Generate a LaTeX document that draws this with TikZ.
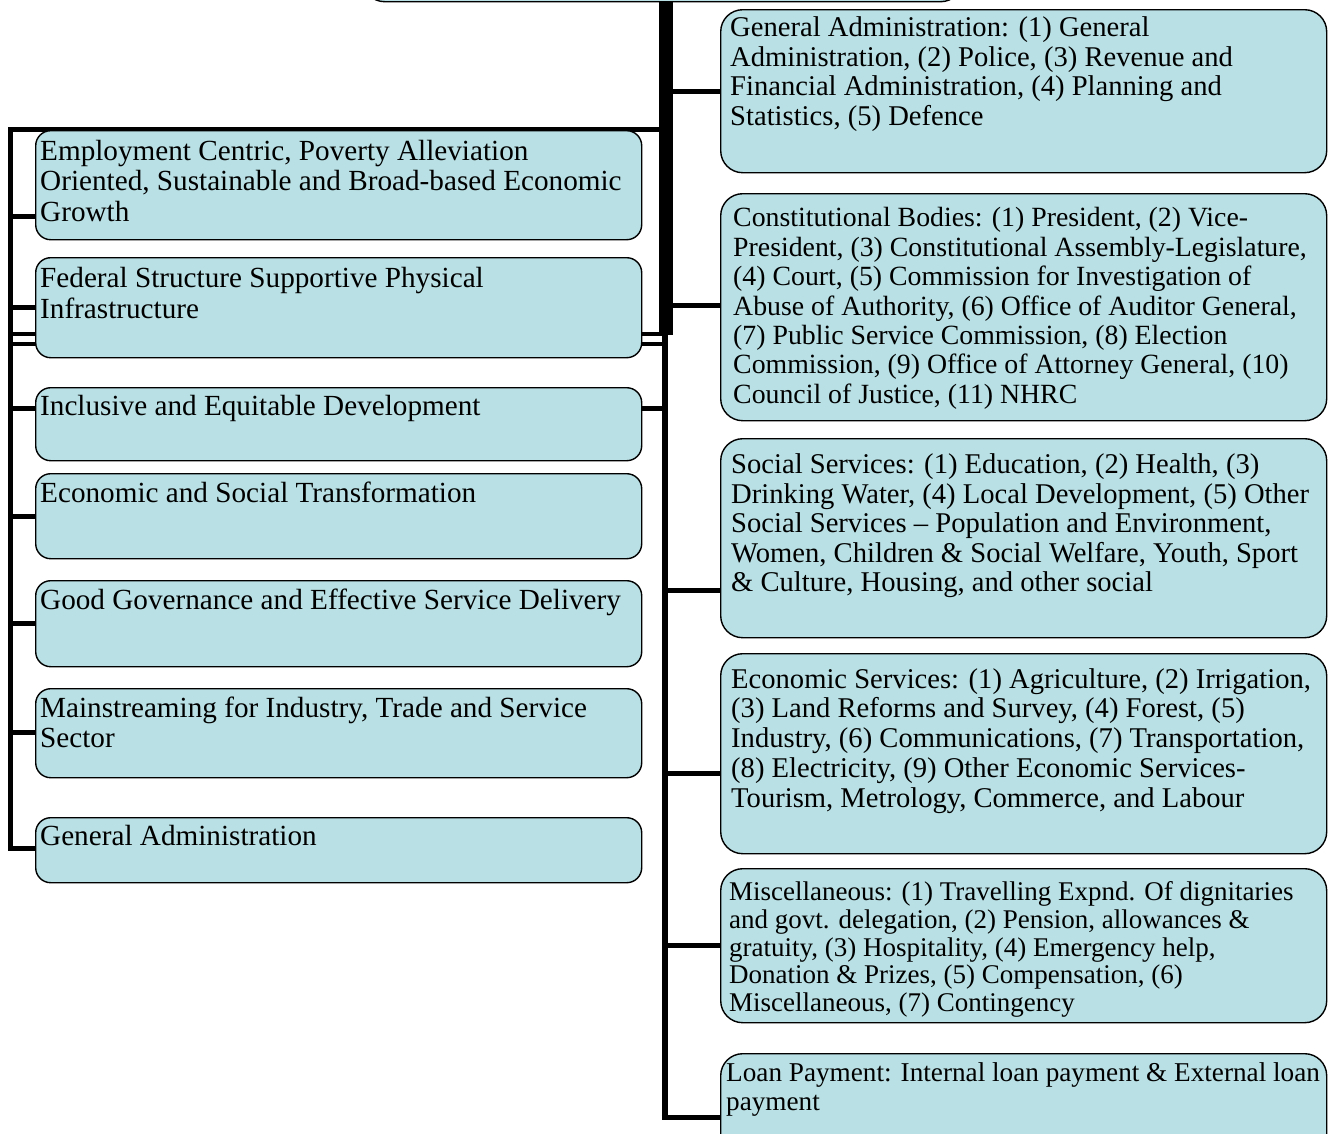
\documentclass[tikz,border=0pt]{standalone}
\usepackage{fontspec}
\setmainfont{Liberation Serif}
\usetikzlibrary{backgrounds}
\definecolor{boxfill}{RGB}{185,224,228}
\begin{document}
\begin{tikzpicture}[x=1pt,y=-1pt,
  boxbase/.style={draw=black, line width=1.4pt, fill=boxfill, inner sep=0pt,
                  anchor=north west, minimum width=606pt},
  lbox/.style={boxbase, rounded corners=15pt},
  rbox/.style={boxbase, rounded corners=22pt},
  ltxt/.style={anchor=north west, inner sep=0pt, align=left,
               font=\fontsize{29.2}{30.8}\selectfont},
  rtxt/.style={anchor=north west, inner sep=0pt, align=left,
               font=\fontsize{28.6}{29.6}\selectfont},
  link/.style={line width=5pt, line cap=butt, draw=black},
  trunk/.style={line width=14pt, line cap=butt, draw=black},
]
\useasboundingbox (0,0) rectangle (1331,1133);
\clip (0,0) rectangle (1331,1133);

% parent box, mostly above the frame
\node[rbox, minimum width=600pt, minimum height=151pt] (root) at (362,-150) {};

% ---------- left column: strategic pillars ----------
\node[lbox, minimum height=109pt] (emp) at (35,130) {};
\node[lbox, minimum height=100pt] (fed) at (35,257) {};
\node[lbox, minimum height=73pt]  (inc) at (35,387) {};
\node[lbox, minimum height=85pt]  (est) at (35,473) {};
\node[lbox, minimum height=86pt]  (ggs) at (35,580) {};
\node[lbox, minimum height=89pt]  (mts) at (35,688) {};
\node[lbox, minimum height=65pt]  (gad) at (35,817) {};

\node[ltxt] (emp-t) at (40,138.4) {\strut Employment Centric, Poverty Alleviation\\Oriented, Sustainable and Broad-based Economic\\Growth};
\node[ltxt] (fed-t) at (40,265.7) {\strut Federal Structure Supportive Physical\\Infrastructure};
\node[ltxt] (inc-t) at (40,393.4) {\strut Inclusive and Equitable Development};
\node[ltxt] (est-t) at (40,481.1) {\strut Economic and Social Transformation};
\node[ltxt] (ggs-t) at (40,587.7) {\strut Good Governance and Effective Service Delivery};
\node[ltxt] (mts-t) at (40,695.4) {\strut Mainstreaming for Industry, Trade and Service\\Sector};
\node[ltxt] (gad-t) at (40,823.4) {\strut General Administration};

% ---------- right column: expenditure heads ----------
\node[rbox, minimum height=163pt] (ga) at (720,9) {};
\node[rbox, minimum height=227pt] (cb) at (720,193) {};
\node[rbox, minimum height=199pt] (ss) at (720,438) {};
\node[rbox, minimum height=200pt] (es) at (720,653) {};
\node[rbox, minimum height=154pt] (mi) at (720,868) {};
\node[rbox, minimum height=120pt] (lp) at (720,1053) {};

\node[rtxt] (ga-t) at (730,15.8) {\strut General Administration: (1) General\\Administration, (2) Police, (3) Revenue and\\Financial Administration, (4) Planning and\\Statistics, (5) Defence};
\node[rtxt, font=\fontsize{27.8}{29.4}\selectfont] (cb-t) at (733,206.1) {\strut Constitutional Bodies: (1) President, (2) Vice-\\President, (3) Constitutional Assembly-Legislature,\\(4) Court, (5) Commission for Investigation of\\Abuse of Authority, (6) Office of Auditor General,\\(7) Public Service Commission, (8) Election\\Commission, (9) Office of Attorney General, (10)\\Council of Justice, (11) NHRC};
\node[rtxt] (ss-t) at (731,452.6) {\strut Social Services: (1) Education, (2) Health, (3)\\Drinking Water, (4) Local Development, (5) Other\\Social Services -- Population and Environment,\\Women, Children \& Social Welfare, Youth, Sport\\\& Culture, Housing, and other social};
\node[rtxt, font=\fontsize{28.6}{29.7}\selectfont] (es-t) at (731,667.2) {\strut Economic Services: (1) Agriculture, (2) Irrigation,\\(3) Land Reforms and Survey, (4) Forest, (5)\\Industry, (6) Communications, (7) Transportation,\\(8) Electricity, (9) Other Economic Services-\\Tourism, Metrology, Commerce, and Labour};
\node[rtxt, font=\fontsize{27}{27.9}\selectfont] (mi-t) at (729,880.5) {\strut Miscellaneous: (1) Travelling Expnd. Of dignitaries\\and govt. delegation, (2) Pension, allowances \&\\gratuity, (3) Hospitality, (4) Emergency help,\\Donation \& Prizes, (5) Compensation, (6)\\Miscellaneous, (7) Contingency};
\node[rtxt, font=\fontsize{27.2}{28.3}\selectfont] (lp-t) at (726,1061.9) {\strut Loan Payment: Internal loan payment \& External loan\\payment};

% ---------- connectors ----------
\coordinate (top)  at (666,1);
\coordinate (mid)  at (666,335);
\coordinate (lTop) at (666,129);
\coordinate (lc)   at (10.5,129);
\coordinate (lEnd) at (10.5,848);
\coordinate (rTop) at (665,335);
\coordinate (rEnd) at (665,1117);

\begin{scope}[on background layer]
  % thick stem below the parent box
  \draw[trunk] (top) -- (mid);
  \draw[link] (top |- ga.west) ++(7,0) -- (ga.west);
  \draw[link] (666,305.5) ++(7,0) -- (cb.west |- 0,305.5);

  % left spine
  \draw[link] (lTop) -- (lc) -- (lEnd) -- (gad.west |- lEnd);
  \foreach \b/\y in {emp/216, fed/307, inc/408.5, est/516, ggs/623, mts/732}
    \draw[link] (10.5,\y) -- (\b.west |- 0,\y);
  % paired bars running behind the infrastructure box
  \draw[line width=4.2pt] (lc |- 0,334) -- (rTop |- 0,334);
  \draw[line width=4.2pt] (lc |- 0,343.7) -- (rTop |- 0,343.7);

  % right spine
  \draw[line width=6.5pt, line cap=butt] (rTop) -- (rEnd);
  \draw[link] (inc.east |- 0,408.5) -- (rTop |- 0,408.5);
  \foreach \b/\y in {ss/590.5, es/773, mi/945}
    \draw[link] (665,\y) -- (\b.west |- 0,\y);
  \draw[link] (rEnd) ++(-3.25,0) -- (lp.west |- rEnd);
\end{scope}
\end{tikzpicture}
\end{document}
